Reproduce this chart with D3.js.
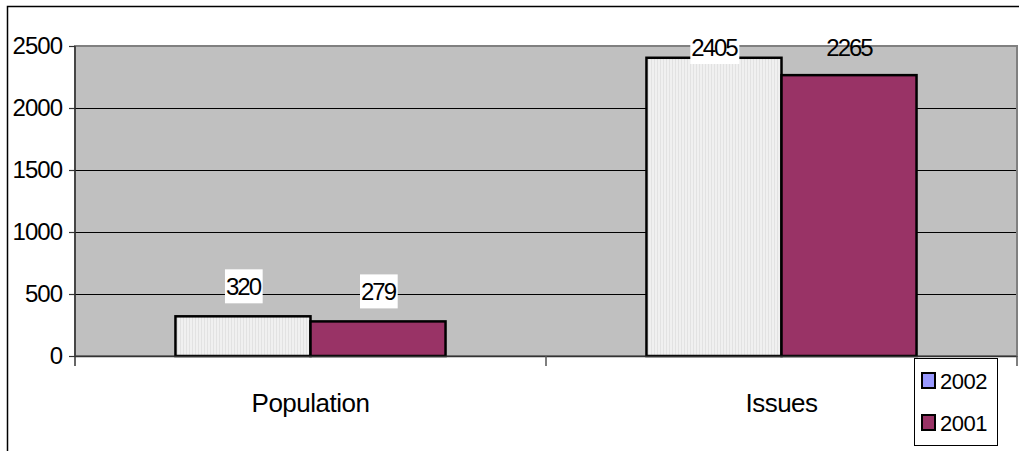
<!DOCTYPE html>
<html>
<head>
<meta charset="utf-8">
<script src="https://cdn.jsdelivr.net/npm/d3@7"></script>
<style>
  html, body { margin: 0; padding: 0; background: #ffffff; }
  svg { display: block; font-family: "Liberation Sans", Arial, sans-serif; }
</style>
</head>
<body>
<svg id="chart" width="1019" height="451"></svg>
<script>
// Chart data
const categories = ["Population", "Issues"];
const seriesNames = ["2002", "2001"];
const values2002 = [320, 2405];
const values2001 = [279, 2265];
const yTicks = [0, 500, 1000, 1500, 2000, 2500];

const seriesValues = { "2002": values2002, "2001": values2001 };
const rows = categories.map((c, i) => ({
  category: c,
  bars: seriesNames.map(s => ({ series: s, category: c, value: seriesValues[s][i] }))
}));

const svg = d3.select("#chart");
const W = 1019, H = 451;
const plot = { left: 75, right: 1017, top: 46, bottom: 356 };

// Outer chart frame (runs off the right and bottom edges)
svg.append("rect")
  .attr("x", 7.5).attr("y", 6.5)
  .attr("width", W + 20).attr("height", H + 20)
  .attr("fill", "#ffffff")
  .attr("stroke", "#000000").attr("stroke-width", 1.5);

// Fill pattern for the 2002 bars
const defs = svg.append("defs");
const pat = defs.append("pattern")
  .attr("id", "stripes2002")
  .attr("patternUnits", "userSpaceOnUse")
  .attr("width", 3).attr("height", 3);
pat.append("rect").attr("width", 3).attr("height", 3).attr("fill", "#f0f0f0");
pat.append("rect").attr("x", 0).attr("width", 1).attr("height", 3).attr("fill", "#e2e2e2");

const colors = { "2002": "url(#stripes2002)", "2001": "#993366" };
const legendColors = { "2002": "#9999ff", "2001": "#993366" };

// Scales
const x0 = d3.scaleBand().domain(categories).range([plot.left, plot.right]).padding(0);
const x1 = d3.scaleBand().domain(seriesNames).range([0, x0.bandwidth()])
  .paddingInner(0).paddingOuter(0.744);
const y = d3.scaleLinear().domain([0, 2500]).range([plot.bottom, plot.top]);

// Plot background
svg.append("rect")
  .attr("x", plot.left).attr("y", plot.top)
  .attr("width", plot.right - plot.left).attr("height", plot.bottom - plot.top)
  .attr("fill", "#c0c0c0")
  .attr("stroke", "#808080").attr("stroke-width", 2);

// Horizontal gridlines
svg.append("g").selectAll("line")
  .data(yTicks.filter(t => t > 0 && t < 2500))
  .join("line")
  .attr("x1", plot.left).attr("x2", plot.right - 1)
  .attr("y1", d => Math.round(y(d)) + 0.5).attr("y2", d => Math.round(y(d)) + 0.5)
  .attr("stroke", "#000000").attr("stroke-width", 1);

// Bars
const groups = svg.append("g").selectAll("g")
  .data(rows)
  .join("g")
  .attr("transform", d => `translate(${x0(d.category)},0)`);

groups.selectAll("rect")
  .data(d => d.bars)
  .join("rect")
  .attr("x", d => x1(d.series))
  .attr("y", d => y(d.value))
  .attr("width", x1.bandwidth())
  .attr("height", d => plot.bottom - y(d.value))
  .attr("fill", d => colors[d.series])
  .attr("stroke", "#000000").attr("stroke-width", 2.5);

// Y axis
const yAxis = svg.append("g")
  .attr("transform", `translate(${plot.left},0)`)
  .call(d3.axisLeft(y).tickValues(yTicks).tickSize(6).tickPadding(7).tickFormat(d3.format("d")));
yAxis.select(".domain").remove();
yAxis.selectAll(".tick line").attr("stroke", "#333333").attr("stroke-width", 1.2);
yAxis.selectAll(".tick text")
  .attr("font-size", 24).attr("letter-spacing", "-1px")
  .attr("fill", "#000000");

svg.append("line")
  .attr("x1", plot.left).attr("x2", plot.left)
  .attr("y1", plot.top).attr("y2", plot.bottom + 10)
  .attr("stroke", "#333333").attr("stroke-width", 1.5);

// X axis line and category separators
svg.append("line")
  .attr("x1", plot.left).attr("x2", plot.right)
  .attr("y1", plot.bottom + 0.5).attr("y2", plot.bottom + 0.5)
  .attr("stroke", "#333333").attr("stroke-width", 1.5);

const edges = categories.map(c => x0(c)).concat([x0(categories[categories.length - 1]) + x0.bandwidth()]);
svg.append("g").selectAll("line")
  .data(edges.slice(1))
  .join("line")
  .attr("x1", d => d).attr("x2", d => d)
  .attr("y1", plot.bottom).attr("y2", plot.bottom + 10)
  .attr("stroke", "#555555").attr("stroke-width", 1.5);

// Category labels
svg.append("g").selectAll("text")
  .data(categories)
  .join("text")
  .attr("x", d => x0(d) + x0.bandwidth() / 2)
  .attr("y", 412)
  .attr("text-anchor", "middle")
  .attr("font-size", 26).attr("letter-spacing", "-0.5px")
  .attr("fill", "#000000")
  .text(d => d);

// Value labels
const labelLayer = svg.append("g");
rows.forEach(r => {
  r.bars.forEach(b => {
    const cx = x0(r.category) + x1(b.series) + x1.bandwidth() / 2;
    const cy = Math.max(y(b.value) - 30, 47);
    const g = labelLayer.append("g");
    const t = g.append("text")
      .attr("x", cx).attr("y", cy)
      .attr("text-anchor", "middle")
      .attr("dominant-baseline", "central")
      .attr("font-size", 24).attr("letter-spacing", "-2px")
      .attr("fill", "#000000")
      .text(b.value);
    // the 2001 issues label sits directly on the plot background
    if (!(r.category === "Issues" && b.series === "2001")) {
      const bb = t.node().getBBox();
      g.insert("rect", "text")
        .attr("x", bb.x - 1).attr("y", cy - 17)
        .attr("width", bb.width + 2).attr("height", 34)
        .attr("fill", "#ffffff");
    }
  });
});

// Legend
const legend = svg.append("g");
legend.append("rect")
  .attr("x", 914.5).attr("y", 358.5)
  .attr("width", 83).attr("height", 87)
  .attr("fill", "#ffffff")
  .attr("stroke", "#000000").attr("stroke-width", 1);

const items = legend.selectAll("g.item")
  .data(seriesNames)
  .join("g")
  .attr("class", "item")
  .attr("transform", (d, i) => `translate(0,${i * 42})`);

items.append("rect")
  .attr("x", 922).attr("y", 373)
  .attr("width", 13).attr("height", 15)
  .attr("fill", d => legendColors[d])
  .attr("stroke", "#000000").attr("stroke-width", 2);

items.append("text")
  .attr("x", 940).attr("y", 381)
  .attr("dominant-baseline", "central")
  .attr("font-size", 22).attr("letter-spacing", "-0.5px")
  .attr("fill", "#000000")
  .text(d => d);
</script>
</body>
</html>
